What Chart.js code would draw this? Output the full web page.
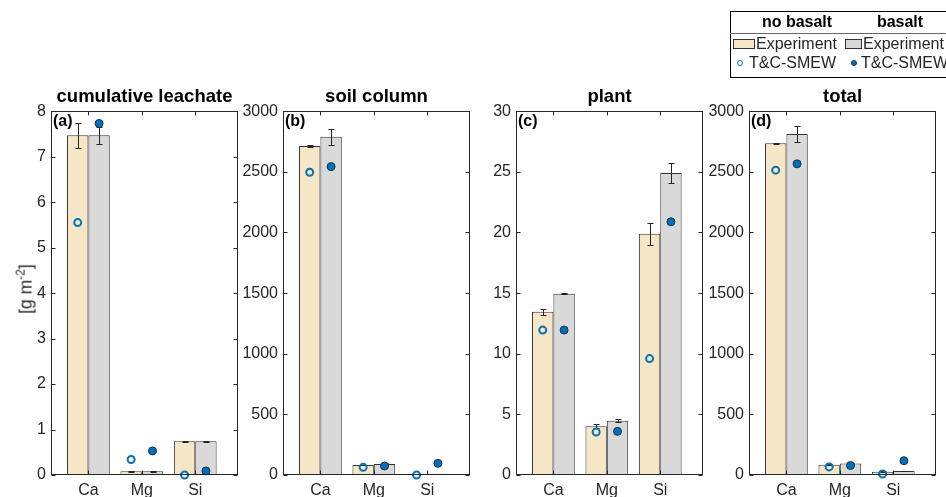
<!DOCTYPE html>
<html>
<head>
<meta charset="utf-8">
<script src="https://cdn.jsdelivr.net/npm/chart.js@4/dist/chart.umd.min.js"></script>
<style>
	body { margin: 0; width: 946px; height: 497px; overflow: hidden; background: #fff; position: relative;
		font-family: "Liberation Sans", Arial, Helvetica, sans-serif; color: #262626; }
	canvas { position: absolute; top: 80px; }
	.abs { position: absolute; white-space: nowrap; font-size: 16px; line-height: 18px; }
	.hdr { font-weight: bold; color: #000; transform: translateX(-50%); }
</style>
</head>
<body>
<canvas id="pa" width="244" height="417" style="left:0px"></canvas>
<canvas id="pb" width="244" height="417" style="left:232px"></canvas>
<canvas id="pc" width="244" height="417" style="left:465px"></canvas>
<canvas id="pd" width="244" height="417" style="left:698px"></canvas>

<div class="abs" style="left:23px; top:289px; font-size:17.5px; line-height:20px; transform: translate(-50%,-50%) rotate(-90deg);">[g m<sup style="font-size:12px">-2</sup>]</div>

<!-- legend table -->
<div style="position:absolute; left:730px; top:11px; width:240px; height:67px; border:1px solid #000; box-sizing:border-box;"></div>
<div style="position:absolute; left:730px; top:33px; width:240px; height:1px; background:#666;"></div>
<span class="abs hdr" style="left:797px; top:13px;">no basalt</span>
<span class="abs hdr" style="left:900px; top:13px;">basalt</span>
<div style="position:absolute; left:733px; top:39px; width:22px; height:10px; box-sizing:border-box; background:#F5E7C6; border:1px solid #333;"></div>
<span class="abs" style="left:756px; top:35px;">Experiment</span>
<div style="position:absolute; left:845px; top:39px; width:17px; height:10px; box-sizing:border-box; background:#D9D9D9; border:1px solid #333;"></div>
<span class="abs" style="left:863px; top:35px;">Experiment</span>
<div style="position:absolute; left:737px; top:60px; width:6px; height:6px; box-sizing:border-box; border:1.5px solid #0072BD; border-radius:50%;"></div>
<span class="abs" style="left:749px; top:54px;">T&amp;C-SMEW</span>
<div style="position:absolute; left:851px; top:60px; width:6px; height:6px; box-sizing:border-box; background:#0072BD; border:1px solid #1a3550; border-radius:50%;"></div>
<span class="abs" style="left:861px; top:54px;">T&amp;C-SMEW</span>

<script>
var categories = ["Ca", "Mg", "Si"];

// (a) cumulative leachate
var leachExp = [7.47, 0.08, 0.74];
var leachExpB = [7.47, 0.08, 0.74];
var leachErr = [0.27, 0.005, 0.01];
var leachErrB = [0.19, 0.005, 0.01];
var leachSim = [5.55, 0.34, 0.0];
var leachSimB = [7.73, 0.53, 0.09];

// (b) soil column
var soilExp = [2713, 82, 8];
var soilExpB = [2790, 91, 10];
var soilErr = [5, 3, 1];
var soilErrB = [65, 4, 1];
var soilSim = [2497, 63, 0];
var soilSimB = [2543, 74, 96];

// (c) plant
var plantExp = [13.46, 4.01, 19.9];
var plantExpB = [14.95, 4.48, 24.9];
var plantErr = [0.23, 0.17, 0.9];
var plantErrB = [0.03, 0.12, 0.85];
var plantSim = [11.95, 3.54, 9.6];
var plantSimB = [11.95, 3.6, 20.88];

// (d) total
var totalExp = [2736, 85, 27];
var totalExpB = [2813, 95, 33];
var totalErr = [5, 4, 2];
var totalErrB = [66, 5, 2];
var totalSim = [2514, 67, 8];
var totalSimB = [2566, 78, 118];

var catPct = 0.8;
var halfBar = catPct / 4; // centre of each of the two grouped bars

Chart.defaults.font.family = '"Liberation Sans", Arial, Helvetica, sans-serif';
Chart.defaults.color = "#262626";

var errorBars = {
	id: "errorBars",
	afterDatasetDraw: function (chart, args) {
		var ds = chart.data.datasets[args.index];
		if (!ds.errors) return;
		var y = chart.scales.y, ctx = chart.ctx;
		ctx.save();
		ctx.strokeStyle = "#222";
		ctx.lineWidth = 1;
		args.meta.data.forEach(function (bar, i) {
			var v = ds.data[i].y, e = ds.errors[i];
			var x = Math.round(bar.x) + 0.5;
			var top = Math.round(y.getPixelForValue(v + e)) + 0.5;
			var bot = Math.round(y.getPixelForValue(v - e)) + 0.5;
			ctx.beginPath();
			ctx.moveTo(x, top); ctx.lineTo(x, bot);
			ctx.moveTo(x - 3, top); ctx.lineTo(x + 3, top);
			ctx.moveTo(x - 3, bot); ctx.lineTo(x + 3, bot);
			ctx.stroke();
		});
		ctx.restore();
	}
};

var frame = {
	id: "frame",
	afterDraw: function (chart, args, opts) {
		var ctx = chart.ctx, a = chart.chartArea, x = chart.scales.x, y = chart.scales.y;
		var l = Math.round(a.left) + 0.5, r = Math.round(a.right) - 0.5;
		var t = Math.round(a.top) + 0.5, b = Math.round(a.bottom) - 0.5;
		ctx.save();
		ctx.strokeStyle = "#262626";
		ctx.lineWidth = 1;
		ctx.strokeRect(l, t, r - l, b - t);
		ctx.beginPath();
		y.ticks.forEach(function (tk) {
			var py = Math.round(y.getPixelForValue(tk.value)) + 0.5;
			ctx.moveTo(l, py); ctx.lineTo(l + 4, py);
			ctx.moveTo(r, py); ctx.lineTo(r - 4, py);
		});
		x.ticks.forEach(function (tk) {
			var px = Math.round(x.getPixelForValue(tk.value)) + 0.5;
			ctx.moveTo(px, t); ctx.lineTo(px, t + 4);
			ctx.moveTo(px, b); ctx.lineTo(px, b - 4);
		});
		ctx.stroke();
		ctx.fillStyle = "#000";
		ctx.font = 'bold 16px "Liberation Sans", Arial, sans-serif';
		ctx.textBaseline = "top";
		ctx.fillText(opts.label, a.left + 2, a.top + 2);
		ctx.restore();
	}
};

function pts(vals, shift) {
	return vals.map(function (v, i) { return { x: i + 1 + shift, y: v }; });
}

function makePanel(id, title, label, ymax, step, exp, expB, err, errB, sim, simB) {
	new Chart(document.getElementById(id), {
		type: "bar",
		data: {
			datasets: [
				{ type: "line", data: pts(sim, -halfBar), showLine: false, order: 0, clip: false,
					pointRadius: 3.5, pointBorderWidth: 2, pointBorderColor: "#0072BD",
					pointBackgroundColor: "rgba(0,0,0,0)" },
				{ type: "line", data: pts(simB, halfBar), showLine: false, order: 0, clip: false,
					pointRadius: 4, pointBorderWidth: 1, pointBorderColor: "#1a2f45",
					pointBackgroundColor: "#0072BD" },
				{ data: pts(exp, 0), errors: err, order: 1, backgroundColor: "#F5E7C6",
					borderColor: "#333", borderWidth: 1, borderSkipped: false },
				{ data: pts(expB, 0), errors: errB, order: 1, backgroundColor: "#D9D9D9",
					borderColor: "#333", borderWidth: 1, borderSkipped: false }
			]
		},
		options: {
			responsive: false,
			animation: false,
			devicePixelRatio: 1,
			categoryPercentage: catPct,
			barPercentage: 1,
			layout: { padding: { top: 0, right: 6, bottom: 0, left: 0 } },
			plugins: {
				legend: { display: false },
				tooltip: { enabled: false },
				title: { display: true, text: title, fullSize: false, color: "#000",
					font: { size: 18.5, weight: "bold" }, padding: { top: 6, bottom: 3 } },
				frame: { label: label }
			},
			scales: {
				x: {
					type: "linear", min: 0.3, max: 3.8, offset: false,
					grid: { display: false, drawTicks: false }, border: { display: false },
					afterBuildTicks: function (s) {
						s.ticks = categories.map(function (c, i) { return { value: i + 1 }; });
					},
					afterFit: function (s) { s.height = 22; },
					ticks: { font: { size: 16 }, color: "#262626", padding: 6, maxRotation: 0,
						callback: function (v) { return categories[v - 1]; } }
				},
				y: {
					min: 0, max: ymax,
					grid: { display: false, drawTicks: false }, border: { display: false },
					afterFit: function (s) { s.width = 51; },
					ticks: { stepSize: step, font: { size: 16 }, color: "#262626", padding: 5,
						callback: function (v) { return String(v); } }
				}
			}
		},
		plugins: [errorBars, frame]
	});
}

makePanel("pa", "cumulative leachate", "(a)", 8, 1, leachExp, leachExpB, leachErr, leachErrB, leachSim, leachSimB);
makePanel("pb", "soil column", "(b)", 3000, 500, soilExp, soilExpB, soilErr, soilErrB, soilSim, soilSimB);
makePanel("pc", "plant", "(c)", 30, 5, plantExp, plantExpB, plantErr, plantErrB, plantSim, plantSimB);
makePanel("pd", "total", "(d)", 3000, 500, totalExp, totalExpB, totalErr, totalErrB, totalSim, totalSimB);
</script>
</body>
</html>
